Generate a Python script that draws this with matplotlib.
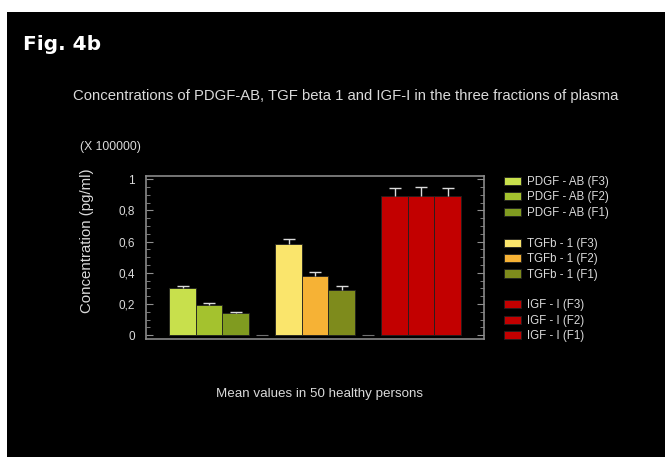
import numpy as np
import matplotlib
matplotlib.use('Agg')
import matplotlib.pyplot as plt
from matplotlib.patches import Rectangle
from matplotlib.ticker import MultipleLocator, FuncFormatter

plt.rcParams['font.family'] = ['Liberation Sans', 'DejaVu Sans']

groups = ['PDGF - AB', 'TGFb - 1', 'IGF - I']
fractions = ['(F3)', '(F2)', '(F1)']
# mean values (x 100000 pg/ml) and upper error
means = [[0.30, 0.192, 0.139],
         [0.583, 0.378, 0.29],
         [0.889, 0.889, 0.889]]
errs = [[0.016, 0.013, 0.011],
        [0.032, 0.028, 0.026],
        [0.055, 0.061, 0.055]]
colors = [['#c8e04c', '#a4c22e', '#809b20'],
          ['#fae56c', '#f6b235', '#7e8b1c'],
          ['#c20000', '#c20000', '#c20000']]

fg = '#dadada'
fig = plt.figure(figsize=(6.65, 4.57), dpi=100, facecolor='white')
fig.patches.append(Rectangle((7/665, 0), 1, 445/457, transform=fig.transFigure,
                             facecolor='black', edgecolor='none', zorder=-10))

ax = fig.add_axes([146/665, 1-339/457, 338/665, 163/457])
ax.set_facecolor('black')

handles = []
for g in range(3):
    for j in range(3):
        x = g*4 + j
        b = ax.bar(x, means[g][j], width=1.0, color=colors[g][j],
                   edgecolor='#202020', linewidth=0.6,
                   label=groups[g] + ' ' + fractions[j])
        eb = ax.errorbar(x, means[g][j], yerr=[[0], [errs[g][j]]], color=fg,
                         capsize=4, elinewidth=1, capthick=1)
        eb[1][0].set_visible(False)  # only upper cap
        handles.append(b)
    if g < 2:
        handles.append(Rectangle((0, 0), 1, 1, fill=False, edgecolor='none', label=' '))
# zero marks in the gaps
ax.bar([3, 7], [0, 0], width=0.45, edgecolor='#707070', linewidth=0.8)

ax.set_xlim(-1.38, 11.37)
ax.set_ylim(-0.025, 1.02)
ax.set_xticks([])
ax.yaxis.set_major_locator(MultipleLocator(0.2))
ax.yaxis.set_minor_locator(MultipleLocator(0.05))
ax.yaxis.set_major_formatter(FuncFormatter(lambda v, p: ('%g' % round(v, 2)).replace('.', ',')))
ax.tick_params(axis='y', which='both', direction='in', left=True, right=True,
               color='#909090', labelcolor=fg, labelsize=8.5, pad=8)
ax.tick_params(axis='y', which='major', length=5)
ax.tick_params(axis='y', which='minor', length=3)
for s in ax.spines.values():
    s.set_color('#8a8a8a')
    s.set_linewidth(1.2)

fig.text(87/665, 1-241/457, 'Concentration (pg/ml)', color=fg, fontsize=10.8,
         rotation=90, ha='center', va='center')

fig.text(23/665, 1-45/457, 'Fig. 4b', color='white', fontsize=14.5, fontweight='bold',
         family='DejaVu Sans', va='center', ha='left')
fig.text(346/665, 1-96/457, 'Concentrations of PDGF-AB, TGF beta 1 and IGF-I in the three fractions of plasma',
         color=fg, fontsize=10.7, ha='center', va='center')
fig.text(80/665, 1-147/457, '(X 100000)', color=fg, fontsize=8.7, ha='left', va='center')
fig.text(320/665, 1-394/457, 'Mean values in 50 healthy persons', color=fg, fontsize=9.6,
         ha='center', va='center')

leg = fig.legend(handles=handles, loc='upper left', bbox_to_anchor=(498/665, 1-170/457),
                 frameon=False, fontsize=8.3, labelcolor=fg, handlelength=1.5,
                 handleheight=0.7, handletextpad=0.55, labelspacing=0.3, borderpad=0)

fig.savefig('out.png', dpi=100, facecolor=fig.get_facecolor())
